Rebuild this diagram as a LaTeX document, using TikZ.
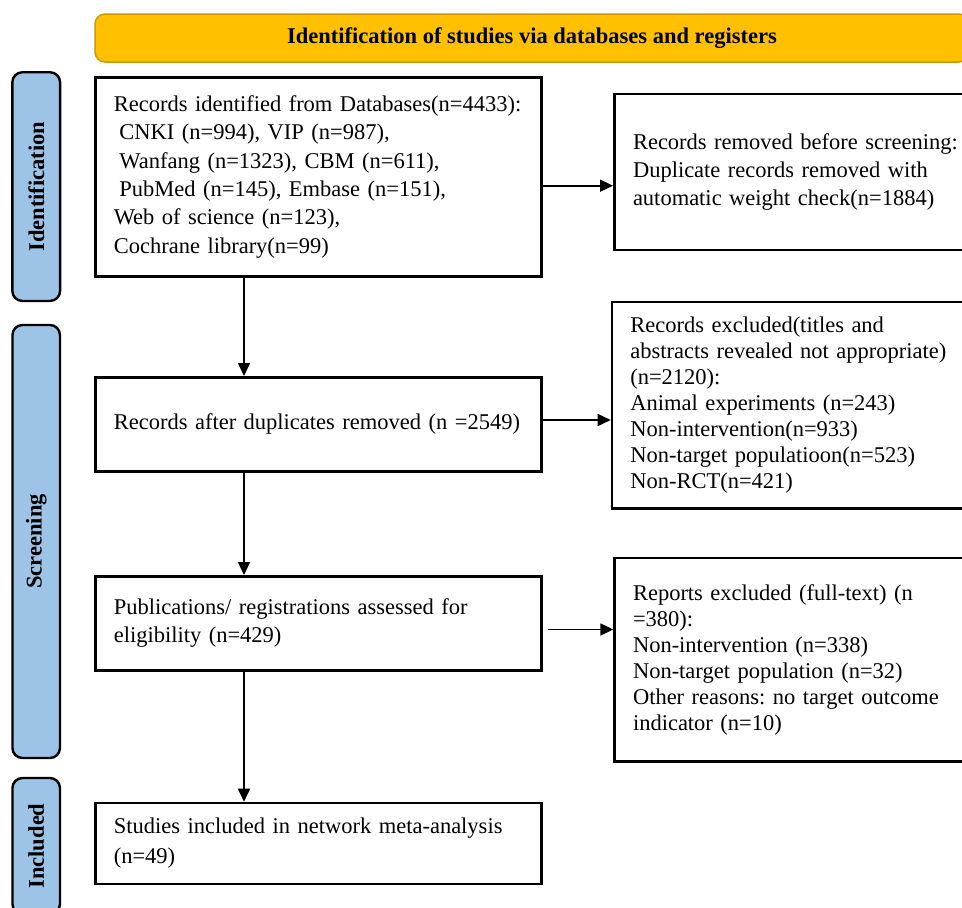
\documentclass[tikz,border=0pt]{standalone}
\usepackage{fontspec}
\setmainfont{Liberation Serif}
\usetikzlibrary{arrows.meta,calc}
\definecolor{gold}{HTML}{FFC000}
\definecolor{goldline}{HTML}{C99A06}
\definecolor{phase}{HTML}{9DC3E6}
\frenchspacing
\begin{document}
\begin{tikzpicture}[x=1pt,y=-1pt,
  box/.style={draw=black, line width=2.6pt, fill=white, align=left, anchor=north west,
    inner xsep=18.5pt, inner ysep=0pt, text width=409pt,
    font=\fontsize{22.5}{28.3}\selectfont},
  sidebox/.style={box, text width=340pt},
  phasebox/.style={draw=black, line width=2.4pt, fill=phase, rounded corners=10pt,
    anchor=center, inner sep=0pt, rotate=90, font=\bfseries\fontsize{22.5}{27}\selectfont},
  banner/.style={draw=goldline, line width=1.5pt, fill=gold, rounded corners=10pt,
    inner sep=0pt, font=\bfseries\fontsize{22.5}{27}\selectfont},
  arr/.style={line width=1.6pt, -{Triangle[length=13pt,width=12pt]}},
]
\path[use as bounding box, clip] (0,0) rectangle (962,908);

% banner
\node[banner, minimum width=874pt, minimum height=48pt] (ban) at (532,38)
  {Identification of studies via databases and registers};

% phase labels
\node[phasebox, minimum width=228.7pt, minimum height=47.7pt] (p1) at (36.2,186.6) {Identification};
\node[phasebox, minimum width=433pt, minimum height=47.5pt] (p2) at (36.2,541.5) {Screening};
\node[phasebox, minimum width=136pt, minimum height=47.5pt] (p3) at (36.2,846) {Included};

% main column
\node[box, minimum height=199pt] (b1) at (94,76)
  {\mbox{Records identified from Databases(n=4433):}\\
   \hspace*{5.6pt}CNKI (n=994), VIP (n=987),\\
   \hspace*{5.6pt}Wanfang (n=1323), CBM (n=611),\\
   \hspace*{5.6pt}PubMed (n=145), Embase (n=151),\\
   Web of science (n=123),\\
   Cochrane library(n=99)};
\node[box, minimum height=94pt] (b2) at (94,376)
  {\mbox{Records after duplicates removed (n =2549)}};
\node[box, minimum height=94pt] (b3) at (94,575)
  {\mbox{Publications/ registrations assessed for}\\ eligibility (n=429)};
\node[box, minimum height=81pt, font=\fontsize{22.5}{30}\selectfont] (b4) at (94,801.7)
  {\mbox{Studies included in network meta-analysis}\\ (n=49)};

% side column
\node[sidebox, minimum height=156pt, inner xsep=18.7pt] (r1) at (613,92.7)
  {\mbox{Records removed before screening:}\\
   \mbox{Duplicate records removed with}\\
   \mbox{automatic weight check(n=1884)}};
\node[sidebox, minimum height=206.3pt, inner xsep=18.3pt, font=\fontsize{22.5}{26.1}\selectfont] (r2) at (610.7,300.7)
  {\mbox{Records excluded(titles and}\\
   \mbox{abstracts revealed not appropriate)}\\
   (n=2120):\\
   \mbox{Animal experiments (n=243)}\\
   \mbox{Non-intervention(n=933)}\\
   \mbox{Non-target populatioon(n=523)}\\
   \mbox{Non-RCT(n=421)}};
\node[sidebox, minimum height=203.3pt, inner xsep=18.4pt, font=\fontsize{22.5}{26}\selectfont] (r3) at (613.3,556.7)
  {\mbox{Reports excluded (full-text) (n}\\
   =380):\\
   \mbox{Non-intervention (n=338)}\\
   \mbox{Non-target population (n=32)}\\
   \mbox{Other reasons: no target outcome}\\
   \mbox{indicator (n=10)}};

% connectors
\coordinate (vx) at (244,0);
\coordinate (h1) at (0,185.7);
\coordinate (h2) at (0,420);
\coordinate (h3) at (0,629.5);
\draw[arr] (b1.south -| vx) -- (b2.north -| vx);
\draw[arr] (b2.south -| vx) -- (b3.north -| vx);
\draw[arr] (b3.south -| vx) -- (b4.north -| vx);
\draw[arr] (b1.east |- h1) -- (r1.west |- h1);
\draw[arr] (b2.east |- h2) -- (r2.west |- h2);
\draw[arr, shorten <=5pt] (b3.east |- h3) -- (r3.west |- h3);
\end{tikzpicture}
\end{document}
